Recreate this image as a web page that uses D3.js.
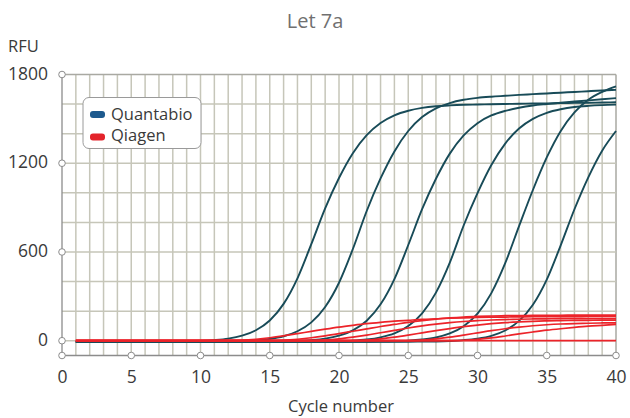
<!DOCTYPE html>
<html><head><meta charset="utf-8">
<script src="https://cdn.jsdelivr.net/npm/d3@7"></script>
<style>body{margin:0;background:#fff}svg{display:block;font-family:"Open Sans",sans-serif}</style>
</head><body><svg id="c" width="630" height="418"></svg>
<script>
const cycles = [1,2,3,4,5,6,7,8,9,10,11,12,13,14,15,16,17,18,19,20,21,22,23,24,25,26,27,28,29,30,31,32,33,34,35,36,37,38,39,40];

const quantabio1 = [-8,-8,-8,-8,-8,-8,-7,-6,-5,-2,4,14,34,71,137,249,422,653,895,1100,1268,1390,1472,1524,1555,1574,1585,1591,1595,1597,1599,1601,1602,1604,1605,1607,1608,1609,1611,1612];
const quantabio2 = [-8,-8,-8,-8,-8,-8,-8,-8,-8,-7,-6,-5,-3,3,12,30,64,124,228,392,620,877,1097,1280,1418,1512,1571,1607,1629,1642,1650,1656,1662,1667,1672,1677,1682,1687,1692,1696];
const quantabio3 = [-8,-8,-8,-8,-8,-8,-8,-8,-8,-8,-8,-8,-8,-7,-6,-5,-2,4,14,34,70,135,246,417,647,889,1095,1265,1388,1471,1523,1554,1575,1590,1600,1609,1617,1625,1633,1640];
const quantabio4 = [-8,-8,-8,-8,-8,-8,-8,-8,-8,-8,-8,-8,-8,-8,-8,-8,-7,-7,-6,-4,0,8,23,49,99,185,325,528,779,998,1188,1333,1435,1500,1541,1565,1580,1588,1593,1596];
const quantabio5 = [-8,-8,-8,-8,-8,-8,-8,-8,-8,-8,-8,-8,-8,-8,-8,-8,-8,-8,-8,-8,-7,-7,-6,-4,0,8,22,49,98,183,322,524,775,1019,1239,1417,1544,1629,1682,1720];
const quantabio6 = [-8,-8,-8,-8,-8,-8,-8,-8,-8,-8,-8,-8,-8,-8,-8,-8,-8,-8,-8,-8,-8,-8,-8,-7,-7,-6,-5,-2,4,14,33,69,134,243,413,643,889,1105,1285,1418];

const qiagen1 = [0,0,0,0,0,0,0,0,0,0,0,0,3,10,20,33,48,63,78,92,104,115,124,132,138,144,148,152,155,157,159,160,161,162,162,163,163,164,164,164];
const qiagen2 = [0,0,0,0,0,0,0,0,0,0,0,0,0,0,0,3,10,20,33,48,64,80,96,110,124,136,146,154,160,164,167,169,170,171,172,172,173,173,173,173];
const qiagen3 = [0,0,0,0,0,0,0,0,0,0,0,0,0,0,0,0,0,0,4,12,24,38,54,70,86,100,112,122,130,136,140,143,145,147,148,149,149,150,150,150];
const qiagen4 = [0,0,0,0,0,0,0,0,0,0,0,0,0,0,0,0,0,0,0,0,0,4,12,24,38,53,68,82,95,106,115,122,127,131,134,136,137,138,139,139];
const qiagen5 = [0,0,0,0,0,0,0,0,0,0,0,0,0,0,0,0,0,0,0,0,0,0,0,0,0,4,12,24,38,53,68,81,92,101,108,113,116,118,120,121];
const qiagen6 = [0,0,0,0,0,0,0,0,0,0,0,0,0,0,0,0,0,0,0,0,0,0,0,0,0,0,0,0,3,9,19,32,46,59,71,81,90,98,104,110];
const qiagen7 = [0,0,0,0,0,0,0,0,0,0,0,0,0,0,0,0,0,0,0,0,0,0,0,0,0,0,0,0,0,0,0,0,0,0,0,0,0,0,0,0];

const xTicks = [0,5,10,15,20,25,30,35,40];
const yTicks = [0,600,1200,1800];
const legendLabels = ["Quantabio","Qiagen"];
const titleText = "Let 7a";
const yTitle = "RFU";
const xTitle = "Cycle number";

const quantabio = [quantabio1,quantabio2,quantabio3,quantabio4,quantabio5,quantabio6];
const qiagen = [qiagen1,qiagen2,qiagen3,qiagen4,qiagen5,qiagen6,qiagen7];

const svg = d3.select("#c");
const x = d3.scaleLinear().domain([0,40]).range([62,616]);
const y = d3.scaleLinear().domain([-100,1800]).range([355.5,74.5]);
const textCol = "#3a3a3a", axisCol = "#8c8c8c", gridCol = "#c6c6b9";

// grid
const g = svg.append("g");
g.selectAll("line.v").data(x.ticks(40).filter(d=>d>0)).join("line")
  .attr("x1",d=>x(d)).attr("x2",d=>x(d)).attr("y1",y(1800)).attr("y2",y(-100))
  .attr("stroke",d=>d===40?"#a9a9a2":gridCol).attr("stroke-width",1.5);
g.selectAll("line.h").data(y.ticks(10).filter(d=>d>=0)).join("line")
  .attr("x1",x(0)).attr("x2",x(40)).attr("y1",d=>y(d)).attr("y2",d=>y(d))
  .attr("stroke",d=>d===1800?"#a9a9a2":gridCol).attr("stroke-width",1.5);

// lines
const line = d3.line().x((d,i)=>x(cycles[i])).y(d=>y(d)).curve(d3.curveMonotoneX);
svg.append("g").selectAll("path").data(quantabio).join("path")
  .attr("d",line).attr("fill","none").attr("stroke","#184b58").attr("stroke-width",1.9);
svg.append("g").selectAll("path").data(qiagen).join("path")
  .attr("d",line).attr("fill","none").attr("stroke","#ec2329").attr("stroke-width",1.7);

// axes lines
svg.append("line").attr("x1",x(0)).attr("x2",x(0)).attr("y1",y(1800)).attr("y2",y(-100))
  .attr("stroke",axisCol).attr("stroke-width",1.3);
svg.append("line").attr("x1",x(0)).attr("x2",x(40)).attr("y1",y(-100)).attr("y2",y(-100))
  .attr("stroke",axisCol).attr("stroke-width",1.6);

// axes text via d3 axes
const xa = svg.append("g").attr("transform",`translate(0,${y(-100)})`)
  .call(d3.axisBottom(x).tickValues(xTicks).tickFormat(d3.format("d")).tickSize(0).tickPadding(15.5));
xa.select(".domain").remove();
xa.selectAll("text").attr("font-size",17.5).attr("fill",textCol).attr("font-family","Open Sans");
const ya = svg.append("g").attr("transform",`translate(${x(0)},0)`)
  .call(d3.axisLeft(y).tickValues(yTicks).tickFormat(d3.format("d")).tickSize(0).tickPadding(14));
ya.select(".domain").remove();
ya.selectAll("text").attr("font-size",17.5).attr("fill",textCol).attr("font-family","Open Sans").attr("dy","0.27em");

// tick circles
svg.append("g").selectAll("circle").data(xTicks).join("circle")
  .attr("cx",d=>x(d)).attr("cy",y(-100)).attr("r",3.3)
  .attr("fill","#fff").attr("stroke",axisCol).attr("stroke-width",1);
svg.append("g").selectAll("circle").data(yTicks).join("circle")
  .attr("cx",x(0)).attr("cy",d=>y(d)).attr("r",3.3)
  .attr("fill","#fff").attr("stroke",axisCol).attr("stroke-width",1);

// titles
svg.append("text").attr("x",315).attr("y",28).attr("text-anchor","middle")
  .attr("font-size",20).attr("fill","#707070").text(titleText);
svg.append("text").attr("x",8).attr("y",52).attr("font-size",16.5).attr("fill",textCol).text(yTitle);
svg.append("text").attr("x",341).attr("y",412).attr("text-anchor","middle")
  .attr("font-size",16.5).attr("fill",textCol).text(xTitle);

// legend
const lg = svg.append("g");
lg.append("rect").attr("x",83).attr("y",97.5).attr("width",118).attr("height",51).attr("rx",6)
  .attr("fill","#fff").attr("stroke","#9a9a9a").attr("stroke-width",1);
const swCols = ["#1d5a8e","#e3232b"];
lg.selectAll("rect.sw").data(legendLabels).join("rect").attr("class","sw")
  .attr("x",90).attr("y",(d,i)=>111+i*22.5).attr("width",15).attr("height",7).attr("rx",3)
  .attr("fill",(d,i)=>swCols[i]);
lg.selectAll("text").data(legendLabels).join("text")
  .attr("x",111).attr("y",(d,i)=>119.5+i*21).attr("font-size",16.5).attr("fill",textCol).text(d=>d);
</script></body></html>
